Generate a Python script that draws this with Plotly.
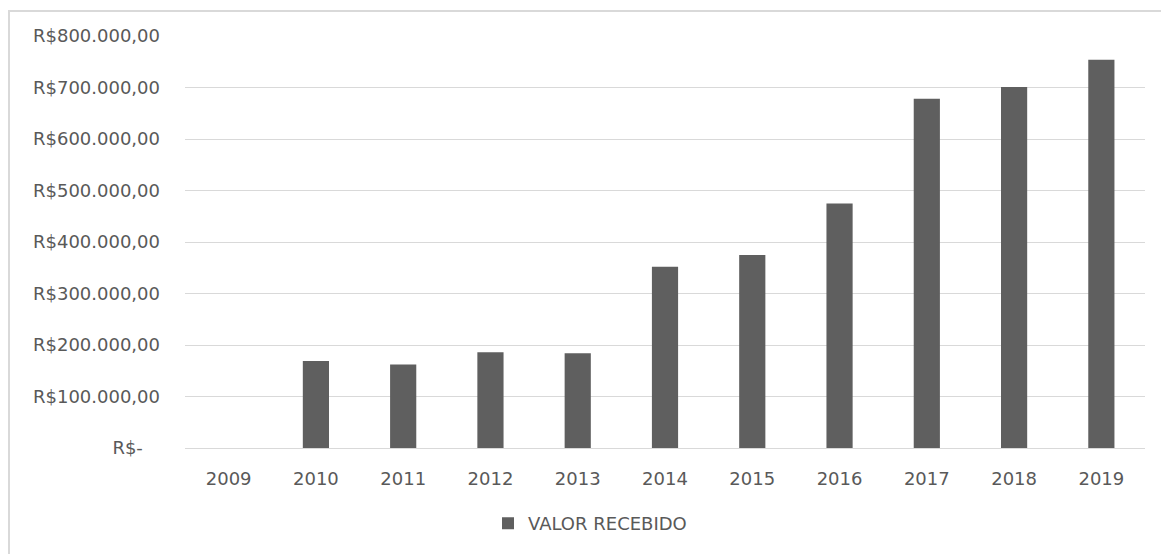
import plotly.graph_objects as go

years = ["2009", "2010", "2011", "2012", "2013", "2014", "2015", "2016", "2017", "2018", "2019"]
valor_recebido = [0, 169000, 162000, 186000, 184000, 352000, 375000, 475000, 678000, 701000, 754000]
tick_vals = [0, 100000, 200000, 300000, 400000, 500000, 600000, 700000, 800000]
tick_text = ["R$-   ", "R$100.000,00", "R$200.000,00", "R$300.000,00", "R$400.000,00",
             "R$500.000,00", "R$600.000,00", "R$700.000,00", "R$800.000,00"]

W, H = 1161, 554
ml, mr, mt, mb = 185, 16, 36, 104
pw, ph = W - ml - mr, H - mt - mb

def px_to_paper_x(px):
    return (px - ml) / pw

def px_to_paper_y(py):
    return (H - mb - py) / ph

fig = go.Figure()
fig.add_trace(go.Bar(
    x=years, y=valor_recebido, name="VALOR RECEBIDO",
    marker=dict(color="#5f5f5f", line=dict(width=0)),
))

fig.update_layout(
    width=W, height=H,
    margin=dict(l=ml, r=mr, t=mt, b=mb),
    paper_bgcolor="white", plot_bgcolor="white",
    font=dict(family="DejaVu Sans", size=18, color="#595959"),
    bargap=0.7,
    showlegend=True,
    legend=dict(orientation="h", x=px_to_paper_x(488), y=px_to_paper_y(526),
                xanchor="left", yanchor="middle",
                font=dict(size=18, color="#595959")),
    xaxis=dict(type="category", showgrid=False, showline=False, ticks="",
               ticklabelstandoff=18,
               tickfont=dict(size=18, color="#595959")),
    yaxis=dict(range=[0, 800000], tickvals=tick_vals, ticktext=tick_text,
               showgrid=True, gridcolor="#d9d9d9", gridwidth=1,
               zeroline=True, zerolinecolor="#d9d9d9", zerolinewidth=1,
               showline=False, ticks="", ticklabelstandoff=24,
               tickfont=dict(size=18, color="#595959")),
    shapes=[dict(type="rect", xref="paper", yref="paper",
                 x0=px_to_paper_x(9), x1=px_to_paper_x(1175),
                 y0=px_to_paper_y(570), y1=px_to_paper_y(11),
                 line=dict(color="#d9d9d9", width=2), fillcolor="rgba(0,0,0,0)",
                 layer="below")],
)

fig.write_html("out.html", config={"displayModeBar": False},
               post_script="document.body.style.margin='0';document.body.style.overflow='hidden';")
